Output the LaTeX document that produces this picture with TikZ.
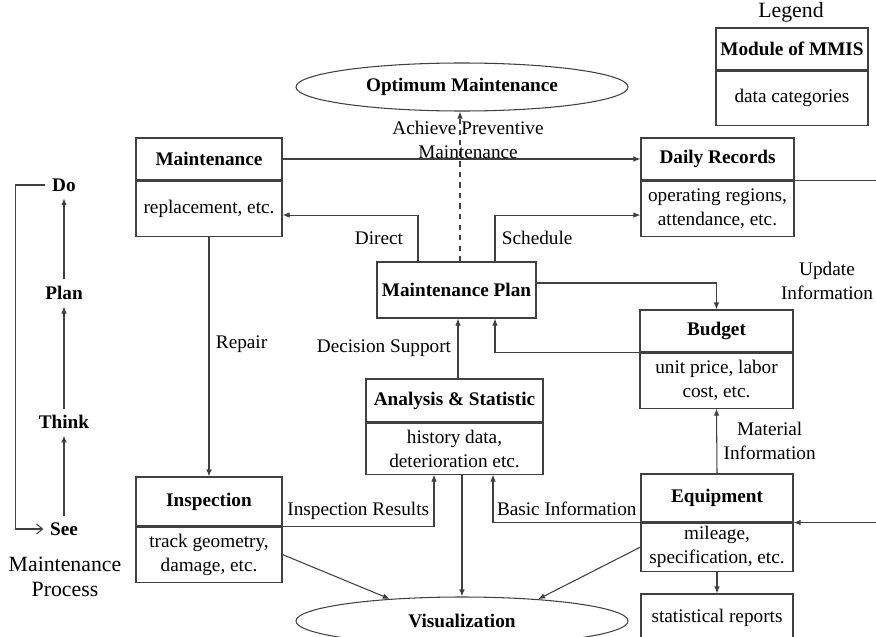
\documentclass[tikz,border=0pt,11pt]{standalone}
\usepackage{fontspec}
\setmainfont{Liberation Serif}
\usetikzlibrary{positioning,shapes.geometric,arrows.meta}

\tikzset{
  box/.style={draw=black!75, line width=0.6pt, inner sep=0pt, align=center},
  module/.style={box, font=\bfseries},
  datapart/.style={box, below=0pt of #1},
  goal/.style={ellipse, draw=black!75, line width=0.6pt, inner sep=0pt, font=\bfseries,
    minimum width=66.4mm, minimum height=9.6mm},
  stage/.style={font=\bfseries},
  caption/.style={align=center, font=\fontsize{12.4}{14.5}\selectfont},
  flow/.style={draw=black!75, line width=0.6pt, -{Latex[length=1.4mm,width=1.1mm]}}
}

\begin{document}
\begin{tikzpicture}[x=0.2mm, y=-0.2mm]
        \useasboundingbox (0,0) rectangle (876,636);

        \node[caption] (legend) at (791,12) {Legend};
        \node[module, minimum width=30.4mm, minimum height=8.4mm] (leg) at (792,49) {Module of MMIS};
        \node[datapart=leg, minimum width=30.4mm, minimum height=10.8mm] (leg-d) {data categories};

        \node[goal] (optimum) at (462,87) {Optimum Maintenance};
        \node[goal] (visual) at (462,621) {Visualization};

        \node[module, minimum width=29.2mm, minimum height=8.4mm] (maint) at (209,159) {Maintenance};
        \node[datapart=maint, minimum width=29.2mm, minimum height=11mm] (maint-d) {replacement, etc.};
        \node[module, minimum width=30.6mm, minimum height=8.4mm] (daily) at (717.5,159) {Daily Records};
        \node[datapart=daily, minimum width=30.6mm, minimum height=11mm] (daily-d) {operating regions,\\attendance, etc.};
        \node[module, minimum width=31.8mm, minimum height=11.2mm] (plan) at (456.5,290) {Maintenance Plan};
        \node[module, minimum width=30.6mm, minimum height=8.4mm] (budget) at (716.5,331) {Budget};
        \node[datapart=budget, minimum width=30.6mm, minimum height=11mm] (budget-d) {unit price, labor\\cost, etc.};
        \node[module, minimum width=35.4mm, minimum height=8.6mm] (anal) at (454.5,400.5) {Analysis \& Statistic};
        \node[datapart=anal, minimum width=35.4mm, minimum height=10.2mm] (anal-d) {history data,\\deterioration etc.};
        \node[module, minimum width=29.2mm, minimum height=9.8mm] (insp) at (209,501.5) {Inspection};
        \node[datapart=insp, minimum width=29.2mm, minimum height=11mm] (insp-d) {track geometry,\\damage, etc.};
        \node[module, minimum width=30.4mm, minimum height=9.6mm] (equip) at (717,498) {Equipment};
        \node[datapart=equip, minimum width=30.4mm, minimum height=9.6mm] (equip-d) {mileage,\\specification, etc.};
        \node[box, minimum width=30.4mm, minimum height=9.6mm] (stats) at (717,618) {statistical reports};

        % see -> think -> plan -> do, and back again
        \node[stage] (s-do) at (64,185) {Do};
        \node[stage] (s-plan) at (64,293) {Plan};
        \node[stage] (s-think) at (64,422) {Think};
        \node[stage] (s-see) at (64,529) {See};
        \node[caption] (process) at (65,577) {Maintenance\\Process};
        \draw[flow] (s-see) -- (s-think);
        \draw[flow] (s-think) -- (s-plan);
        \draw[flow] (s-plan) -- (s-do);
        \draw[draw=black!75, line width=0.6pt, -{Straight Barb[length=1.2mm,width=2mm]}]
            (s-do.west) -- ++(-6mm,0) |- (s-see.west);

        \coordinate (aim) at ([xshift=0.7mm]plan.north);
        \coordinate (advice) at ([xshift=0.7mm]anal.north);
        \coordinate (show) at ([xshift=1.5mm]anal-d.south);

        \draw[flow] (maint) -- (daily);
        \draw[flow] ([xshift=-7.7mm]plan.north) |- ([yshift=-1.3mm]maint-d.east)
            node[pos=0.25, left=1.6mm] {Direct};
        \draw[flow] ([xshift=7.7mm]plan.north) |- ([yshift=-1.3mm]daily-d.west)
            node[pos=0.25, right] {Schedule};
        \draw[flow, dashed] (aim) -- (aim |- optimum.south)
            node[pos=0.81, xshift=1.6mm, align=center] {Achieve Preventive\\Maintenance};
        \draw[flow] ([yshift=1.4mm]plan.east) -| (budget.north);
        \draw[flow] (budget.south west) -| ([xshift=7.7mm]plan.south);
        \node[align=center] (update) at (827,281) {Update\\Information};
        \draw[flow] (advice) -- (advice |- plan.south)
            node[midway, left] {Decision Support};
        \draw[flow] (maint-d) -- (insp) node[pos=0.45, right] {Repair};
        \draw[flow] (insp.south east) -| ([xshift=-4.1mm]anal-d.south)
            node[pos=0.25, above] {Inspection Results};
        \draw[flow] (equip.south west) -| ([xshift=7.7mm]anal-d.south)
            node[pos=0.25, above] {Basic Information};
        \draw[flow] (equip.north) -- (budget-d.south)
            node[midway, right, align=center] {Material\\Information};
        \draw[flow] (equip-d) -- (stats);
        \draw[flow] (show) -- (show |- visual.north);
        \draw[flow] (insp-d.east) -- (visual.163);
        \draw[flow] (equip-d.west) -- (visual.16);
        \draw[flow] (daily.south east) -- ++(20mm,0) |- (equip.south east);
\end{tikzpicture}
\end{document}
